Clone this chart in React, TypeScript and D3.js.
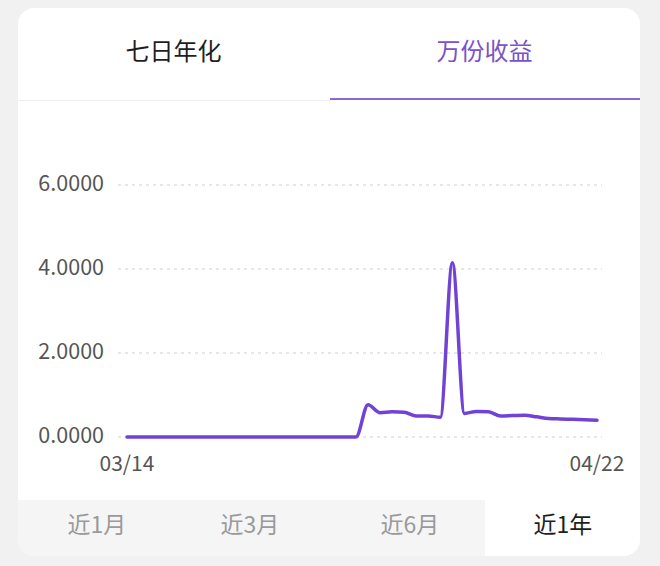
import { useMemo } from 'react';
import * as d3 from 'd3';

// 万份收益 — daily values, 03/14 → 04/22
const DATES = [
  '03/14', '03/15', '03/16', '03/17', '03/18', '03/19', '03/20', '03/21', '03/22', '03/23',
  '03/24', '03/25', '03/26', '03/27', '03/28', '03/29', '03/30', '03/31', '04/01', '04/02',
  '04/03', '04/04', '04/05', '04/06', '04/07', '04/08', '04/09', '04/10', '04/11', '04/12',
  '04/13', '04/14', '04/15', '04/16', '04/17', '04/18', '04/19', '04/20', '04/21', '04/22',
];
const VALUES = [
  0, 0, 0, 0, 0, 0, 0, 0, 0, 0,
  0, 0, 0, 0, 0, 0, 0, 0, 0, 0,
  0.77, 0.58, 0.6, 0.59, 0.5, 0.5, 0.47, 4.15, 0.56, 0.61,
  0.6, 0.5, 0.51, 0.52, 0.48, 0.44, 0.43, 0.42, 0.41, 0.4,
];
const Y_TICKS = [0, 2, 4, 6];
const X_TICK_LABELS = ['03/14', '04/22'];
const TOP_TABS = ['七日年化', '万份收益'];
const RANGE_TABS = ['近1月', '近3月', '近6月', '近1年'];

const W = 660;
const H = 566;
const CARD = { x: 18, y: 8, w: 622, h: 548, r: 16 };
const PLOT = { left: 127, right: 597, top: 185, bottom: 437 };
const PURPLE = '#7142d6';
const FONT = '"Noto Sans CJK SC", "Noto Sans", sans-serif';

export default function App() {
  const x = useMemo(
    () => d3.scalePoint<string>().domain(DATES).range([PLOT.left, PLOT.right]),
    [],
  );
  const y = useMemo(
    () => d3.scaleLinear().domain([0, 6]).range([PLOT.bottom, PLOT.top]),
    [],
  );

  const linePath = useMemo(() => {
    const gen = d3
      .line<number>()
      .x((_, i) => x(DATES[i]) as number)
      .y((d) => y(d))
      .curve(d3.curveMonotoneX);
    return gen(VALUES) ?? '';
  }, [x, y]);

  // tab layout
  const topTabW = CARD.w / 2;
  const rangeCenters = [97, 250, 410, 563];
  const selectedRangeX = 485;

  return (
    <svg
      width={W}
      height={H}
      viewBox={`0 0 ${W} ${H}`}
      style={{ position: 'absolute', left: 0, top: 0, display: 'block' }}
      fontFamily={FONT}
    >
      <defs>
        <clipPath id="card-clip">
          <rect x={CARD.x} y={CARD.y} width={CARD.w} height={CARD.h} rx={CARD.r} />
        </clipPath>
      </defs>
      <rect x={0} y={0} width={W} height={H} fill="#f1f1f1" />
      <rect x={CARD.x} y={CARD.y} width={CARD.w} height={CARD.h} rx={CARD.r} fill="#ffffff" />

      {/* ---- top tabs ---- */}
      {TOP_TABS.map((t, i) => (
        <text
          key={t}
          x={CARD.x + topTabW * i + topTabW / 2}
          y={53}
          textAnchor="middle"
          dominantBaseline="middle"
          fontSize={24}
          fill={i === 1 ? '#7a52c9' : '#1e1e1e'}
        >
          {t}
        </text>
      ))}
      <line x1={CARD.x} x2={330} y1={100.5} y2={100.5} stroke="#efefef" strokeWidth={1} />
      <line x1={330} x2={640} y1={99} y2={99} stroke="#8a68d4" strokeWidth={2} />

      {/* ---- grid + y labels ---- */}
      {Y_TICKS.map((v) => (
        <g key={v}>
          <line
            x1={118}
            x2={602}
            y1={y(v)}
            y2={y(v)}
            stroke="#cfcfcf"
            strokeWidth={1}
            strokeDasharray="3 4"
          />
          <text
            x={104}
            y={y(v)}
            textAnchor="end"
            dominantBaseline="middle"
            fontSize={21.5}
            fill="#555555"
          >
            {v.toFixed(4)}
          </text>
        </g>
      ))}

      {/* ---- x labels ---- */}
      {X_TICK_LABELS.map((d) => (
        <text
          key={d}
          x={x(d) as number}
          y={465}
          textAnchor="middle"
          dominantBaseline="middle"
          fontSize={21}
          fill="#555555"
        >
          {d}
        </text>
      ))}

      {/* ---- line ---- */}
      <path
        d={linePath}
        fill="none"
        stroke={PURPLE}
        strokeWidth={3.5}
        strokeLinejoin="round"
        strokeLinecap="round"
      />

      {/* ---- range tabs ---- */}
      <g clipPath="url(#card-clip)">
        <rect x={CARD.x} y={500} width={selectedRangeX - CARD.x} height={60} fill="#f5f5f5" />
      </g>
      {RANGE_TABS.map((t, i) => (
        <text
          key={t}
          x={rangeCenters[i]}
          y={527}
          textAnchor="middle"
          dominantBaseline="middle"
          fontSize={23}
          fill={i === RANGE_TABS.length - 1 ? '#1e1e1e' : '#9a9a9a'}
        >
          {t}
        </text>
      ))}
    </svg>
  );
}
